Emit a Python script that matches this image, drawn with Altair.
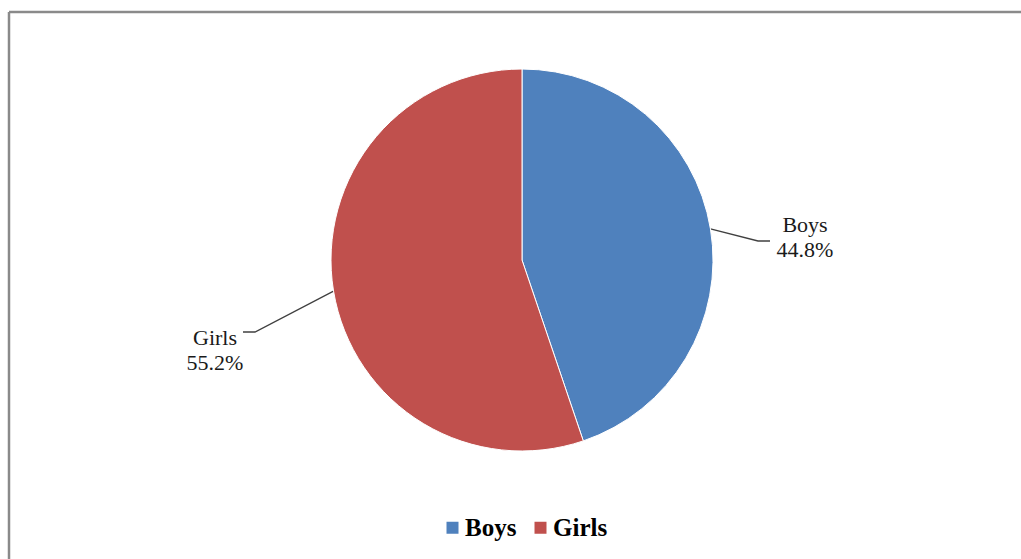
import math
import altair as alt
import pandas as pd

# ---- data ----
categories = ["Boys", "Girls"]
shares = [44.8, 55.2]
colors = ["#4F81BD", "#C0504D"]

# ---- layout / style ----
W, H = 1012, 547          # plot area (origin at window 9,12)
CX, CY = 513, 248         # pie centre in plot pixels
R = 191                   # pie radius
# leader elbow offsets from centre, tail length and text-block offsets (style only)
elbow = {"Boys": (236, -19), "Girls": (-267, 72)}
tail = {"Boys": 12, "Girls": -12}
text_off = {"Boys": (35, -16), "Girls": (-28, 6)}
SERIF = "Liberation Serif"

pie_df = pd.DataFrame({"category": categories, "share": shares, "order": [0, 1]})

# leader lines derived from slice mid-angles
total = sum(shares)
rows, trows = [], []
start = 0.0
for cat, v in zip(categories, shares):
    mid = (start + v / 2) / total * 2 * math.pi
    start += v
    ex, ey = CX + R * math.sin(mid), CY - R * math.cos(mid)
    bx, by = CX + elbow[cat][0], CY + elbow[cat][1]
    tx, ty = bx + tail[cat], by
    rows += [
        {"category": cat, "step": 0, "px": ex, "py": ey},
        {"category": cat, "step": 1, "px": bx, "py": by},
        {"category": cat, "step": 2, "px": tx, "py": ty},
    ]
    trows.append({"category": cat, "px": tx + text_off[cat][0], "py": ty + text_off[cat][1],
                  "label": f"{cat}\n{v:.1f}%"})
line_df = pd.DataFrame(rows)
text_df = pd.DataFrame(trows)

xs = alt.Scale(domain=[0, W], nice=False, zero=False)
ys = alt.Scale(domain=[0, H], nice=False, zero=False, reverse=True)

pie = alt.Chart(pie_df).mark_arc(radius=R, stroke="white", strokeWidth=1).encode(
    theta=alt.Theta("share:Q", stack=True),
    order=alt.Order("order:Q"),
    color=alt.Color(
        "category:N",
        scale=alt.Scale(domain=categories, range=colors),
        sort=categories,
        legend=alt.Legend(
            title=None, orient="none", direction="horizontal",
            legendX=431, legendY=503, symbolType="square", symbolSize=144,
            symbolStrokeWidth=0, labelFont=SERIF, labelFontSize=25,
            labelFontWeight="bold", labelColor="#000000", labelOffset=0,
            columnPadding=11, padding=0,
        ),
    ),
    x=alt.value(CX),
    y=alt.value(CY),
)

leaders = alt.Chart(line_df).mark_line(color="#404040", strokeWidth=1.3).encode(
    x=alt.X("px:Q", scale=xs, axis=None),
    y=alt.Y("py:Q", scale=ys, axis=None),
    detail="category:N",
    order="step:Q",
)

labels = alt.Chart(text_df).mark_text(
    font=SERIF, fontSize=22, lineBreak="\n", lineHeight=25,
    align="center", baseline="middle", color="#1a1a1a",
).encode(
    x=alt.X("px:Q", scale=xs, axis=None),
    y=alt.Y("py:Q", scale=ys, axis=None),
    text="label:N",
)

border = alt.Chart(pd.DataFrame({"k": [0]})).mark_rule(color="#8a8a8a", strokeWidth=2.5).encode(
    x=alt.value(0), x2=alt.value(W), y=alt.value(0),
)
border_left = alt.Chart(pd.DataFrame({"k": [0]})).mark_rule(color="#8a8a8a", strokeWidth=2.5).encode(
    x=alt.value(0), y=alt.value(0), y2=alt.value(H),
)

chart = alt.layer(border, border_left, leaders, pie, labels).properties(
    width=W, height=H,
    padding={"left": 9, "top": 12, "right": 0, "bottom": 0},
    autosize=alt.AutoSizeParams(type="none"),
    background="white",
).configure_view(stroke=None)

chart.save("out.html", embed_options={"renderer": "svg", "actions": False})
